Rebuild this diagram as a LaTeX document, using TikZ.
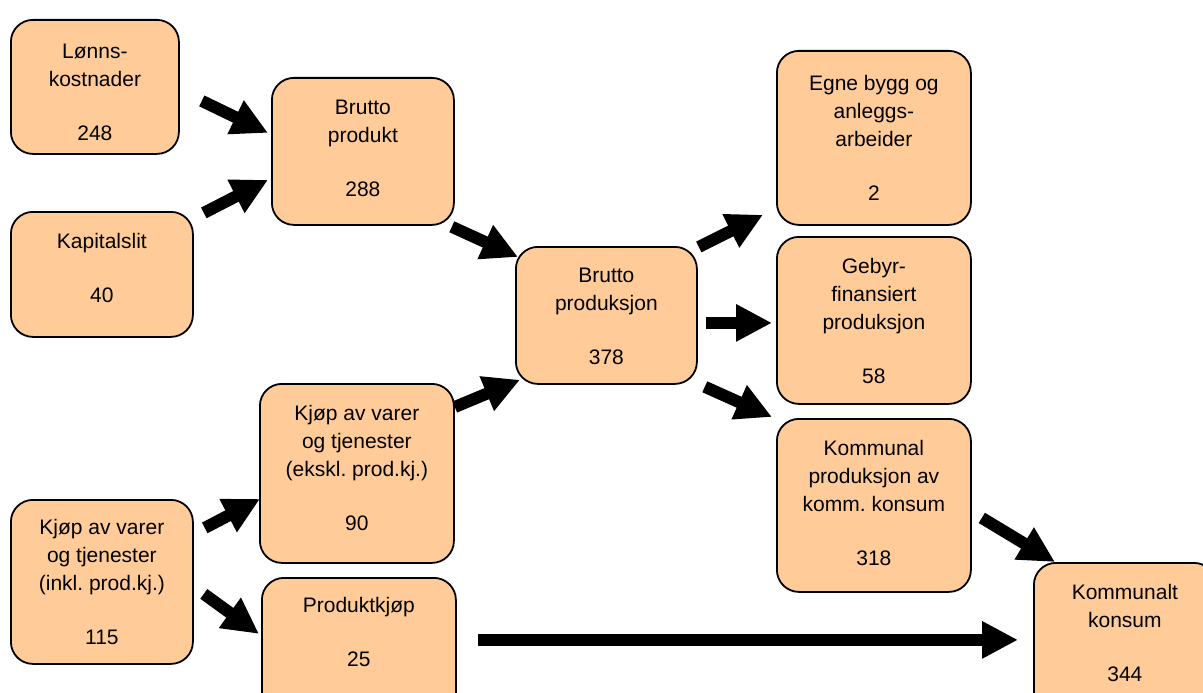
\documentclass[tikz,border=0pt]{standalone}
\usepackage{fontspec}
\setmainfont{Liberation Sans}
\usetikzlibrary{arrows.meta}
\definecolor{boksfarge}{RGB}{255,204,153}
% text block of a box: first baseline, width, height, text
\newcommand{\innhold}[4][36.5pt]{\parbox[t][#3][t]{#2}{\centering\rule{0pt}{#1}#4}}
\tikzset{
  boks/.style={draw=black, line width=1.8pt, fill=boksfarge, rounded corners=22pt,
    anchor=north west, inner sep=0pt, font=\fontsize{21}{28}\selectfont\frenchspacing},
  flyt/.style={line width=12pt, line cap=butt, -{Triangle[length=36pt,width=35pt]}}
}
\begin{document}
\begin{tikzpicture}[x=1pt,y=-1pt]
\useasboundingbox (0,0) rectangle (1203,693);
\clip (0,0) rectangle (1203,693);
% boksene
\node[boks] (lonn) at (10,19) {\innhold[38.5pt]{168pt}{134pt}{Lønns-\\kostnader\\[26pt]248}};
\node[boks] (kap) at (10,211) {\innhold{182pt}{125pt}{Kapitalslit\\[26pt]40}};
\node[boks] (bprod) at (271,77) {\innhold{182pt}{147pt}{Brutto\\produkt\\[26pt]288}};
\node[boks] (bprodsj) at (515,246) {\innhold[35.5pt]{181pt}{137pt}{Brutto\\produksjon\\[26pt]378}};
\node[boks] (kjopeks) at (259,383) {\innhold{194pt}{179pt}{Kjøp av varer\\og tjenester\\(ekskl. prod.kj.)\\[26pt]90}};
\node[boks] (kjopinkl) at (10,499) {\innhold[34.5pt]{182pt}{164pt}{Kjøp av varer\\og tjenester\\(inkl. prod.kj.)\\[26pt]115}};
\node[boks] (prodkjop) at (261,577) {\innhold[34.5pt]{194pt}{140pt}{Produktkjøp\\[26pt]25}};
\node[boks] (egne) at (776,50) {\innhold[39.5pt]{194pt}{174pt}{Egne bygg og\\anleggs-\\arbeider\\[26pt]2}};
\node[boks] (gebyr) at (776,236) {\innhold{194pt}{167pt}{Gebyr-\\finansiert\\produksjon\\[26pt]58}};
\node[boks] (kommprod) at (776,418) {\innhold{194pt}{173pt}{Kommunal\\produksjon av\\komm. konsum\\[26pt]318}};
\node[boks] (kkonsum) at (1033,562) {\innhold{182pt}{150pt}{Kommunalt\\konsum\\[26pt]344}};
% pilene
\draw[flyt] ([shift={(22,14)}]lonn.east) -- ([shift={(-3,-18.5)}]bprod.west);
\draw[flyt] ([shift={(10,-61.5)}]kap.east) -- ([shift={(-3,28.5)}]bprod.west);
\draw[flyt] ([shift={(-3,1)}]bprod.south east) -- ([shift={(3,11)}]bprodsj.north west);
\draw[flyt] ([shift={(0,24)}]kjopeks.north east) -- ([shift={(5,-5)}]bprodsj.south west);
\draw[flyt] ([shift={(1,1)}]bprodsj.north east) -- ([shift={(-13,-11)}]egne.south west);
\draw[flyt] ([shift={(8,7.5)}]bprodsj.east) -- ([shift={(-4,2.5)}]gebyr.west);
\draw[flyt] ([shift={(7,2)}]bprodsj.south east) -- ([shift={(-4,-1)}]kommprod.north west);
\draw[flyt] ([shift={(10,12.5)}]kommprod.east) -- ([shift={(22,0)}]kkonsum.north west);
\draw[flyt] ([shift={(21,-8)}]prodkjop.east) -- ([shift={(-15,2)}]kkonsum.west);
\draw[flyt] ([shift={(11,-54)}]kjopinkl.east) -- ([shift={(1,25.5)}]kjopeks.west);
\draw[flyt] ([shift={(10,12)}]kjopinkl.east) -- ([shift={(-2,-14)}]prodkjop.west);
\end{tikzpicture}
\end{document}
